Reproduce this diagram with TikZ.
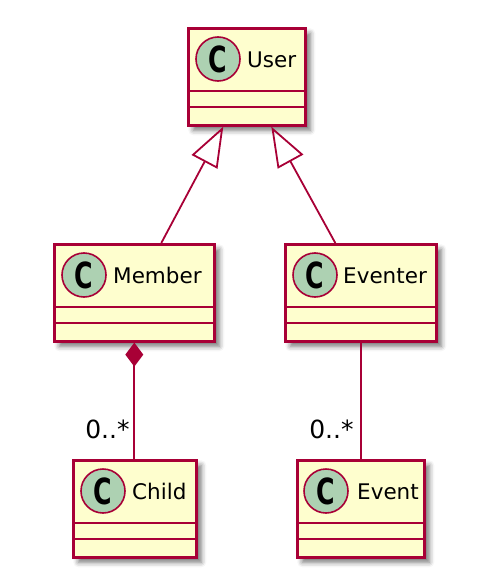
\documentclass[tikz,border=0pt]{standalone}
\usepackage{fontspec}
\setmainfont{DejaVu Sans}
\usepackage{graphicx}
\usepackage{tikz}
\usetikzlibrary{arrows.meta,shadows.blur}

\definecolor{umlborder}{HTML}{A80036}
\definecolor{umlfill}{HTML}{FEFECE}
\definecolor{umlcircle}{HTML}{ADD1B2}

\begin{document}
\begin{tikzpicture}[
    x=1pt, y=-1pt,
    >=Latex,
    classbox/.style={draw=umlborder, fill=umlfill, line width=2.6pt, inner sep=0pt, anchor=north west, minimum height=97pt,
        blur shadow={shadow xshift=5pt, shadow yshift=-5pt, shadow blur radius=5pt, shadow opacity=55}},
    classmark/.style={circle, draw=umlborder, fill=umlcircle, line width=1.6pt, minimum size=44pt, inner sep=0pt, font=\fontsize{36}{36}\selectfont\bfseries},
    classname/.style={anchor=base west, inner sep=0pt, font=\fontsize{21.5}{24}\selectfont},
    multlabel/.style={anchor=base east, inner sep=0pt, font=\fontsize{25}{27}\selectfont},
    compline/.style={draw=umlborder, line width=2.6pt},
    link/.style={draw=umlborder, line width=1.8pt}
]
\useasboundingbox (0,0) rectangle (482,586);

\node[classbox, minimum width=117pt] (user) at (187,27) {};
\node[classmark] (usermark) at ([xshift=31pt,yshift=-32pt]user.north west) {\scalebox{0.7}[1]{C}};
\node[classname] (username) at ([xshift=60pt,yshift=-40pt]user.north west) {User};
\draw[compline] ([yshift=-64pt]user.north west) -- ([yshift=-64pt]user.north east);
\draw[compline] ([yshift=-80pt]user.north west) -- ([yshift=-80pt]user.north east);

\node[classbox, minimum width=160pt] (member) at (53,243) {};
\node[classmark] (membermark) at ([xshift=31pt,yshift=-32pt]member.north west) {\scalebox{0.7}[1]{C}};
\node[classname] (membername) at ([xshift=60pt,yshift=-40pt]member.north west) {Member};
\draw[compline] ([yshift=-64pt]member.north west) -- ([yshift=-64pt]member.north east);
\draw[compline] ([yshift=-80pt]member.north west) -- ([yshift=-80pt]member.north east);

\node[classbox, minimum width=151pt] (eventer) at (284,243) {};
\node[classmark] (eventermark) at ([xshift=31pt,yshift=-32pt]eventer.north west) {\scalebox{0.7}[1]{C}};
\node[classname] (eventername) at ([xshift=59pt,yshift=-40pt]eventer.north west) {Eventer};
\draw[compline] ([yshift=-64pt]eventer.north west) -- ([yshift=-64pt]eventer.north east);
\draw[compline] ([yshift=-80pt]eventer.north west) -- ([yshift=-80pt]eventer.north east);

\node[classbox, minimum width=123pt] (child) at (72,459) {};
\node[classmark] (childmark) at ([xshift=31pt,yshift=-32pt]child.north west) {\scalebox{0.7}[1]{C}};
\node[classname] (childname) at ([xshift=60pt,yshift=-40pt]child.north west) {Child};
\draw[compline] ([yshift=-64pt]child.north west) -- ([yshift=-64pt]child.north east);
\draw[compline] ([yshift=-80pt]child.north west) -- ([yshift=-80pt]child.north east);

\node[classbox, minimum width=127pt] (event) at (296,459) {};
\node[classmark] (eventmark) at ([xshift=30pt,yshift=-32pt]event.north west) {\scalebox{0.7}[1]{C}};
\node[classname] (eventname) at ([xshift=61pt,yshift=-40pt]event.north west) {Event};
\draw[compline] ([yshift=-64pt]event.north west) -- ([yshift=-64pt]event.north east);
\draw[compline] ([yshift=-80pt]event.north west) -- ([yshift=-80pt]event.north east);

\draw[link, -{Triangle[open, length=40pt, width=29pt]}] ([xshift=27pt]member.north) -- ([xshift=-23.5pt]user.south);
\draw[link, -{Triangle[open, length=40pt, width=29pt]}] ([xshift=-25.5pt]eventer.north) -- ([xshift=24.5pt]user.south);
\draw[link, {Diamond[length=24pt, width=18pt]}-] (member.south) -- (member.south |- child.north);
\draw[link] (eventer.south) -- (event.north);

\node[multlabel] (childmult) at ([xshift=-5pt,yshift=21pt]child.north) {0..*};
\node[multlabel] (eventmult) at ([xshift=-7pt,yshift=21pt]event.north) {0..*};
\end{tikzpicture}
\end{document}
